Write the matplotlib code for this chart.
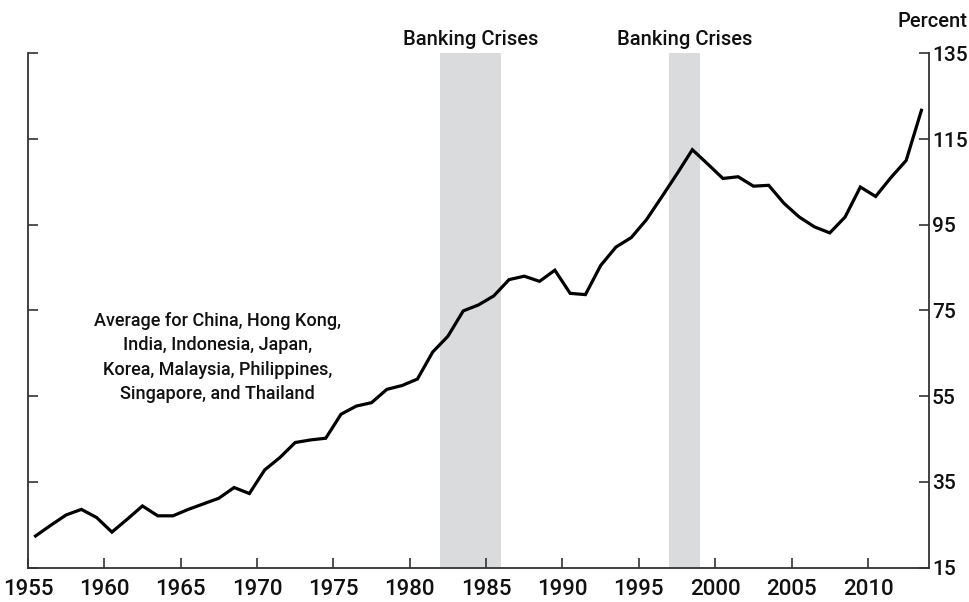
import numpy as np
import matplotlib
matplotlib.use("Agg")
import matplotlib.pyplot as plt
import matplotlib.transforms as mtransforms

plt.rcParams["font.family"] = ["Roboto", "DejaVu Sans"]

# annual values, plotted at mid-year
years = np.arange(1955, 2014)
values = [
    22.4, 24.9, 27.3, 28.6, 26.7, 23.3, 26.3, 29.4, 27.1, 27.1,
    28.6, 29.9, 31.2, 33.7, 32.3, 37.8, 40.7, 44.2, 44.8, 45.2,
    50.8, 52.7, 53.5, 56.6, 57.5, 59.0, 65.3, 69.0, 74.9, 76.3,
    78.4, 82.2, 83.0, 81.8, 84.4, 79.0, 78.7, 85.5, 89.8, 92.0,
    96.2, 101.5, 106.9, 112.5, 109.2, 105.8, 106.2, 104.0, 104.2, 100.0,
    96.8, 94.5, 93.1, 96.8, 103.8, 101.6, 106.0, 110.0, 121.7,
]
crises = [(1982, 1986), (1997, 1999)]
crisis_label = "Banking Crises"
note = ("Average for China, Hong Kong,\nIndia, Indonesia, Japan,\n"
        "Korea, Malaysia, Philippines,\nSingapore, and Thailand")
xticks = list(range(1955, 2015, 5))
yticks = list(range(15, 136, 20))

fig = plt.figure(figsize=(9.69, 6.02), dpi=100)
ax = fig.add_axes([0.0288, 0.057, 0.93, 0.8545])

trans = mtransforms.blended_transform_factory(ax.transData, ax.transAxes)
for start, end in crises:
    ax.axvspan(start, end, color="#dadbdd", lw=0, zorder=0)
    ax.text((start + end) / 2, 1.027, crisis_label, transform=trans,
            ha="center", va="center", fontsize=14.5, fontweight="medium",
            color="#111111")

ax.plot(years + 0.5, values, color="black", lw=2.3, zorder=3,
        solid_joinstyle="miter")

ax.text(1967.4, 64.0, note, ha="center", va="center", fontsize=13,
        fontweight="medium", linespacing=1.45, color="#111111")

ax.set_xlim(1955, 2014)
ax.set_ylim(15, 135)
ax.set_xticks(xticks)
ax.set_yticks(yticks)

ax.spines["top"].set_visible(False)
for side in ["left", "right", "bottom"]:
    ax.spines[side].set_color("#333333")
    ax.spines[side].set_linewidth(1.3)

ax.tick_params(axis="both", direction="in", length=7, width=1.2,
               color="#333333", labelcolor="#111111")
ax.tick_params(axis="x", labelsize=16, pad=8)
ax.tick_params(axis="y", left=True, right=True, labelleft=False,
               labelright=True, labelsize=15, pad=2)
for lbl in ax.get_xticklabels() + ax.get_yticklabels():
    lbl.set_fontweight("medium")

fig.text(0.998, 0.965, "Percent", ha="right", va="center", fontsize=14.5,
         fontweight="medium", color="#111111")

fig.savefig("out.png", dpi=100)
